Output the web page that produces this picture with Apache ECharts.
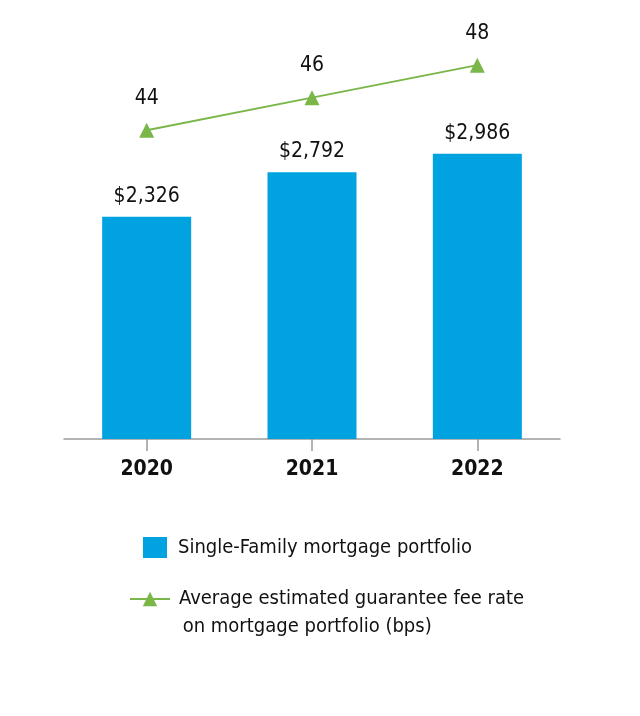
<!DOCTYPE html>
<html><head><meta charset="utf-8">
<script src="https://cdn.jsdelivr.net/npm/echarts@6/dist/echarts.min.js"></script>
<style>html,body{margin:0;padding:0;background:#fff}#c{width:640px;height:716px}</style>
</head><body><div id="c"></div>
<script>
const categories = ['2020', '2021', '2022'];
const portfolioValues = [2326, 2792, 2986];
const feeRates = [44, 46, 48];
const barName = 'Single-Family mortgage portfolio';
const lineName = 'Average estimated guarantee fee rate';
const lineName2 = ' on mortgage portfolio (bps)';

const FONT = '"Liberation Sans Narrow", "DejaVu Sans Condensed", "Liberation Sans", sans-serif';
const chart = echarts.init(document.getElementById('c'));
chart.setOption({
  animation: false,
  backgroundColor: '#fff',
  textStyle: { fontFamily: FONT },
  grid: { left: 64, right: 80, top: 57, bottom: 277 },
  legend: [
    { data: [{ name: barName, icon: 'rect' }], orient: 'vertical', left: 138, top: 532, itemWidth: 24, itemHeight: 21, itemGap: 0,
      textStyle: { fontFamily: FONT, fontSize: 20, color: '#111', padding: [0, 0, 0, 6] } },
    { data: [lineName], orient: 'vertical', left: 124, top: 584, itemWidth: 40, itemHeight: 18, itemGap: 0,
      textStyle: { fontFamily: FONT, fontSize: 20, color: '#111', padding: [0, 0, 0, 4] } }
  ],
  graphic: [{ type: 'text', left: 177, top: 617, style: { text: lineName2, font: '20px ' + FONT, fill: '#111' } }],
  xAxis: {
    type: 'category', data: categories, boundaryGap: true,
    axisLine: { show: true, lineStyle: { color: '#9a9a9a', width: 1.5 } },
    axisTick: { show: true, alignWithLabel: true, length: 12, lineStyle: { color: '#9a9a9a', width: 1.5 }, inside: false },
    axisLabel: { margin: 20, fontFamily: FONT, fontSize: 21, fontWeight: 'bold', color: '#111' }
  },
  yAxis: [
    { type: 'value', min: 0, max: 4000, show: false, splitLine: { show: false } },
    { type: 'value', min: 25, max: 48.5, show: false, splitLine: { show: false } }
  ],
  series: [
    { name: barName, type: 'bar', data: portfolioValues, barWidth: 89, itemStyle: { color: '#00a3e0' },
      label: { show: true, position: 'top', distance: 10, fontFamily: FONT, fontSize: 21, color: '#111',
        formatter: p => '$' + p.value.toLocaleString('en-US') } },
    { name: lineName, type: 'line', yAxisIndex: 1, data: feeRates, symbol: 'triangle', symbolSize: [15, 15],
      lineStyle: { color: '#7ab648', width: 2 }, itemStyle: { color: '#7ab648' },
      label: { show: true, position: 'top', distance: 14, fontFamily: FONT, fontSize: 21, color: '#111' } }
  ]
});
</script></body></html>
